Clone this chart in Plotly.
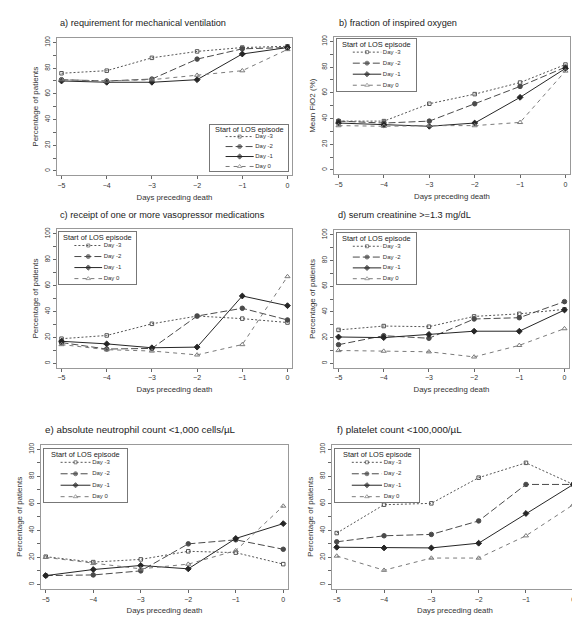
import plotly.graph_objects as go

# ---------------- data ----------------
days = [-5, -4, -3, -2, -1, 0]
series_names = ["Day -3", "Day -2", "Day -1", "Day 0"]
legend_title = "Start of LOS episode"
x_title = "Days preceding death"
y_ticks = [0, 20, 40, 60, 80, 100]

panel_titles = [
    "a) requirement for mechanical ventilation",
    "b) fraction of inspired oxygen",
    "c) receipt of one or more vasopressor medications",
    "d) serum creatinine >=1.3 mg/dL",
    "e) absolute neutrophil count <1,000 cells/\u00b5L",
    "f) platelet count <100,000/\u00b5L",
]
y_titles = [
    "Percentage of patients",
    "Mean FiO2 (%)",
    "Percentage of patients",
    "Percentage of patients",
    "Percentage of patients",
    "Percentage of patients",
]

vent_m3 = [76, 78, 88, 93, 96, 97]
vent_m2 = [71, 70, 71.5, 87, 95, 96]
vent_m1 = [70, 69, 69, 71, 91, 96]
vent_d0 = [71, 70, 71, 74.5, 78, 94.5]

fio2_m3 = [38, 38, 51.5, 59, 68, 82]
fio2_m2 = [38, 36.5, 38, 51.5, 65, 80]
fio2_m1 = [36.5, 35, 34, 36.5, 56.5, 79]
fio2_d0 = [34.5, 34, 34.5, 34.5, 37, 77]

vaso_m3 = [19, 21.5, 30.5, 36.5, 34.5, 31.5]
vaso_m2 = [16, 11, 11.5, 36.5, 42.5, 33.5]
vaso_m1 = [17, 15, 12, 12.5, 52, 44.5]
vaso_d0 = [14.5, 10.5, 9.5, 6.5, 14.5, 67]

creat_m3 = [26, 29, 28.5, 36.5, 38.5, 42]
creat_m2 = [14.5, 21.5, 19.5, 34.5, 35.5, 48]
creat_m1 = [20.5, 20, 22.5, 25, 25, 41.5]
creat_d0 = [10, 9.5, 9, 5, 14, 27]

anc_m3 = [20.5, 16.5, 18.5, 24.5, 23.5, 15]
anc_m2 = [6.5, 7, 10, 30, 33, 26]
anc_m1 = [6.5, 11, 14, 11.5, 34, 45]
anc_d0 = [20, 15.5, 11.5, 15, 25, 58]

plt_m3 = [38, 59, 60, 79, 90, 74]
plt_m2 = [31.5, 36, 37, 47, 74, 74]
plt_m1 = [27.5, 27, 27, 30.5, 52.5, 74]
plt_d0 = [21, 10.5, 19.5, 19.5, 36, 59]

panels_data = [
    [vent_m3, vent_m2, vent_m1, vent_d0],
    [fio2_m3, fio2_m2, fio2_m1, fio2_d0],
    [vaso_m3, vaso_m2, vaso_m1, vaso_d0],
    [creat_m3, creat_m2, creat_m1, creat_d0],
    [anc_m3, anc_m2, anc_m1, anc_d0],
    [plt_m3, plt_m2, plt_m1, plt_d0],
]

# ---------------- styles / layout ----------------
W, H = 580, 618
FONT = "Liberation Sans, Arial, sans-serif"
line_colors = ["#555555", "#4a4a4a", "#262626", "#7a7a7a"]
dashes = ["2px,2px", "7px,3px", "solid", "4px,4px"]
symbols = ["square-open", "circle", "diamond", "triangle-up-open"]
msizes = [3.5, 4.5, 4.5, 4.5]
leg_msizes = [3, 4, 4, 4]
frame_color = "#999999"

# plot boxes in pixels: left, top, right, bottom
boxes = [
    (49, 28, 284, 166),
    (326, 27, 562, 165),
    (49, 220, 284, 359),
    (326, 221, 561, 359),
    (33, 436, 280, 581),
    (324, 436, 570, 581),
]
legend_boxes = [
    (202, 115, 280, 162),
    (329, 29, 408, 81),
    (51, 223, 128, 275),
    (329, 224, 408, 275),
    (36, 440, 119, 494),
    (327, 440, 411, 494),
]
title_pos = [(50, 13), (329, 13), (50, 206), (328, 206), (35, 421), (327, 421)]
title_sizes = [9.2, 9.2, 9.2, 9.2, 9.8, 9.8]


def fx(px):
    return px / W


def fy(py):
    return 1 - py / H


fig = go.Figure()
layout = dict(
    width=W, height=H,
    margin=dict(l=0, r=0, t=0, b=0),
    paper_bgcolor="white", plot_bgcolor="white",
    showlegend=False,
    font=dict(family=FONT, color="#333333"),
    annotations=[],
)

for p in range(6):
    ax = p + 1
    xa = "x" if ax == 1 else f"x{ax}"
    ya = "y" if ax == 1 else f"y{ax}"
    l, t, r, b = boxes[p]
    layout["xaxis" if ax == 1 else f"xaxis{ax}"] = dict(
        domain=[fx(l), fx(r)], anchor=ya, range=[-5.1, 0.1],
        tickvals=days, ticks="outside", ticklen=3, tickcolor="#666666",
        showline=True, mirror=True, linecolor=frame_color, linewidth=1,
        showgrid=False, zeroline=False,
        tickfont=dict(size=7, color="#333333"),
        title=dict(text=x_title, font=dict(size=7.8), standoff=6),
    )
    layout["yaxis" if ax == 1 else f"yaxis{ax}"] = dict(
        domain=[fy(b), fy(t)], anchor=xa, range=[-3.5, 103.5],
        tickvals=y_ticks, ticks="outside", ticklen=3, tickcolor="#666666",
        tickangle=-90,
        minor=dict(tickvals=[10, 30, 50, 70, 90], ticks="outside", ticklen=3,
                   tickcolor="#666666"),
        showline=True, mirror=True, linecolor=frame_color, linewidth=1,
        showgrid=False, zeroline=False,
        tickfont=dict(size=6.5, color="#333333"),
        title=dict(text=y_titles[p], font=dict(size=8), standoff=4),
    )
    for s in range(4):
        fig.add_trace(go.Scatter(
            x=days, y=panels_data[p][s], xaxis=xa, yaxis=ya,
            mode="lines+markers", name=series_names[s],
            line=dict(color=line_colors[s], width=1, dash=dashes[s]),
            marker=dict(symbol=symbols[s], size=msizes[s], color=line_colors[s],
                        line=dict(width=1, color=line_colors[s])),
            showlegend=False, hoverinfo="x+y+name",
        ))
    layout["annotations"].append(dict(
        text=panel_titles[p], xref="paper", yref="paper",
        x=fx(title_pos[p][0]), y=fy(title_pos[p][1]),
        xanchor="left", yanchor="middle", showarrow=False,
        font=dict(size=title_sizes[p], color="#222222"),
    ))

    # ---- legend drawn in its own small axes ----
    lax = p + 7
    lxa, lya = f"x{lax}", f"y{lax}"
    ll, lt, lr, lb = legend_boxes[p]
    layout[f"xaxis{lax}"] = dict(
        domain=[fx(ll), fx(lr)], anchor=lya, range=[0, 1],
        showline=True, mirror=True, linecolor="#777777", linewidth=1,
        showticklabels=False, ticks="", showgrid=False, zeroline=False,
        fixedrange=True,
    )
    layout[f"yaxis{lax}"] = dict(
        domain=[fy(lb), fy(lt)], anchor=lxa, range=[4.5, -0.2],
        showline=True, mirror=True, linecolor="#777777", linewidth=1,
        showticklabels=False, ticks="", showgrid=False, zeroline=False,
        fixedrange=True,
    )
    for s in range(4):
        row = s + 1
        fig.add_trace(go.Scatter(
            x=[0.2, 0.38, 0.56], y=[row, row, row], xaxis=lxa, yaxis=lya,
            mode="lines+markers",
            line=dict(color=line_colors[s], width=1, dash=dashes[s]),
            marker=dict(symbol=symbols[s], size=[0, leg_msizes[s], 0],
                        color=line_colors[s],
                        line=dict(width=1, color=line_colors[s])),
            showlegend=False, hoverinfo="skip",
        ))
    fig.add_trace(go.Scatter(
        x=[0.58] * 4, y=[1, 2, 3, 4], xaxis=lxa, yaxis=lya,
        mode="text", text=series_names, textposition="middle right",
        textfont=dict(size=6, color="#333333"),
        showlegend=False, hoverinfo="skip",
    ))
    layout["annotations"].append(dict(
        text=legend_title, xref=f"{lxa} domain", yref=lya,
        x=0.5, y=0.3, xanchor="center", yanchor="middle", showarrow=False,
        font=dict(size=7.4, color="#222222"),
    ))

fig.update_layout(**layout)
fig.write_html("out.html")
